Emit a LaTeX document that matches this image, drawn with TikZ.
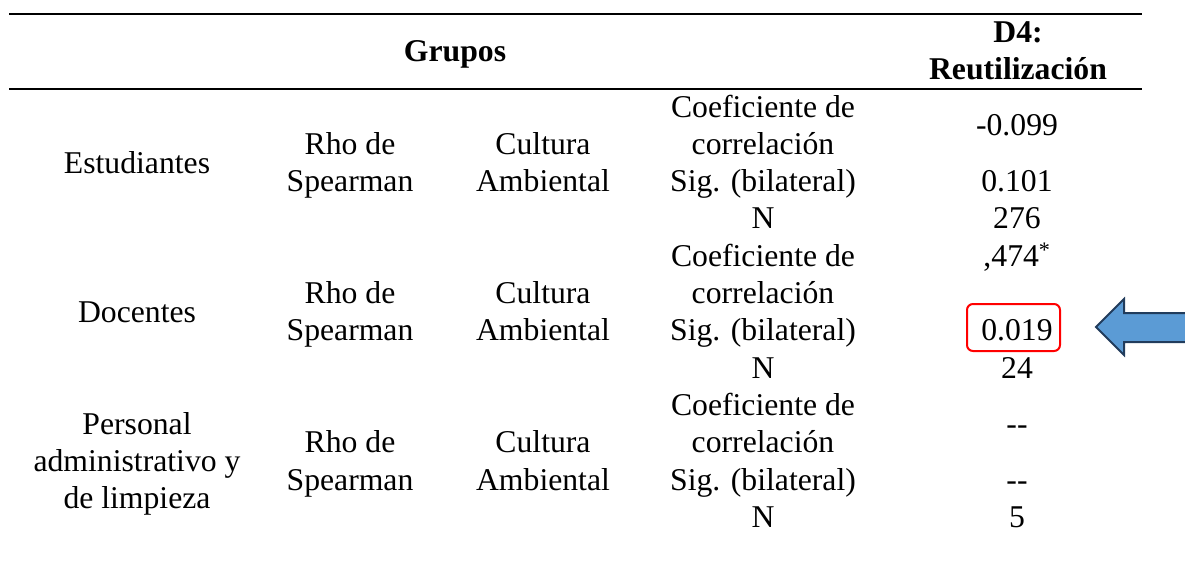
\documentclass[tikz,border=0pt]{standalone}
\usepackage{fontspec}
\setmainfont{Liberation Serif}
\definecolor{arrowfill}{RGB}{91,155,213}
\definecolor{arrowline}{RGB}{33,60,92}
\tikzset{every picture/.style={line width=0.75pt}}
\tikzset{
  cell/.style={anchor=base, inner sep=0pt, align=center, font=\fontsize{31.7}{37.3}\selectfont},
  headcell/.style={cell, font=\fontsize{31.7}{37.3}\selectfont\bfseries},
  tablerule/.style={line width=2pt},
}
\begin{document}
\begin{tikzpicture}[x=1pt,y=1pt,yscale=-1,xscale=1]
	\useasboundingbox (0,0) rectangle (1185,567);
	
	%Straight Lines [top rule]
	\draw [tablerule] (9,14) -- (1142,14);
	%Straight Lines [header rule]
	\draw [tablerule] (9,89) -- (1142,89);
	
	% Text Node
	\node [headcell] (grupos) at (455,61.5) {Grupos};
	% Text Node
	\node [headcell] (dcuatro) at (1018,80) {D4:\\Reutilización};
	
	% Text Node -- Estudiantes
	\node [cell] (estud) at (137,173) {Estudiantes};
	\node [cell] (rhoa) at (350,191.6) {Rho de\\Spearman};
	\node [cell] (culta) at (543,191.6) {Cultura\\Ambiental};
	\node [cell] (stata) at (763,228.9) {Coeficiente de\\correlación\\Sig. (bilateral)\\N};
	\node [cell] (coefa) at (1017,135.6) {-0.099};
	\node [cell] (siga) at (1017,191.6) {0.101};
	\node [cell] (na) at (1017,228.9) {276};
	
	% Text Node -- Docentes
	\node [cell] (doc) at (137,322.2) {Docentes};
	\node [cell] (rhob) at (350,340.8) {Rho de\\Spearman};
	\node [cell] (cultb) at (543,340.8) {Cultura\\Ambiental};
	\node [cell] (statb) at (763,378.1) {Coeficiente de\\correlación\\Sig. (bilateral)\\N};
	\node [cell] (coefb) at (1017,266.2) {,474\textsuperscript{*}};
	\node [cell] (sigb) at (1017,340.8) {0.019};
	\node [cell] (nb) at (1017,378.1) {24};
	
	% Text Node -- Personal
	\node [cell] (pers) at (137,508.7) {Personal\\administrativo y\\de limpieza};
	\node [cell] (rhoc) at (350,490) {Rho de\\Spearman};
	\node [cell] (cultc) at (543,490) {Cultura\\Ambiental};
	\node [cell] (statc) at (763,527.3) {Coeficiente de\\correlación\\Sig. (bilateral)\\N};
	\node [cell] (coefc) at (1017,434) {-{}-};
	\node [cell] (sigc) at (1017,490) {-{}-};
	\node [cell] (nc) at (1017,527.3) {5};
	
	%Shape: Rectangle [highlight]
	\draw [color=red, line width=2pt, rounded corners=6pt] (967,304) rectangle (1060,351);
	%Shape: Left Arrow
	\draw [fill=arrowfill, draw=arrowline, line width=2pt, line join=miter] (1096,327) -- (1124,299) -- (1124,313) -- (1190,313) -- (1190,342) -- (1124,342) -- (1124,355) -- cycle;
	
\end{tikzpicture}
\end{document}
